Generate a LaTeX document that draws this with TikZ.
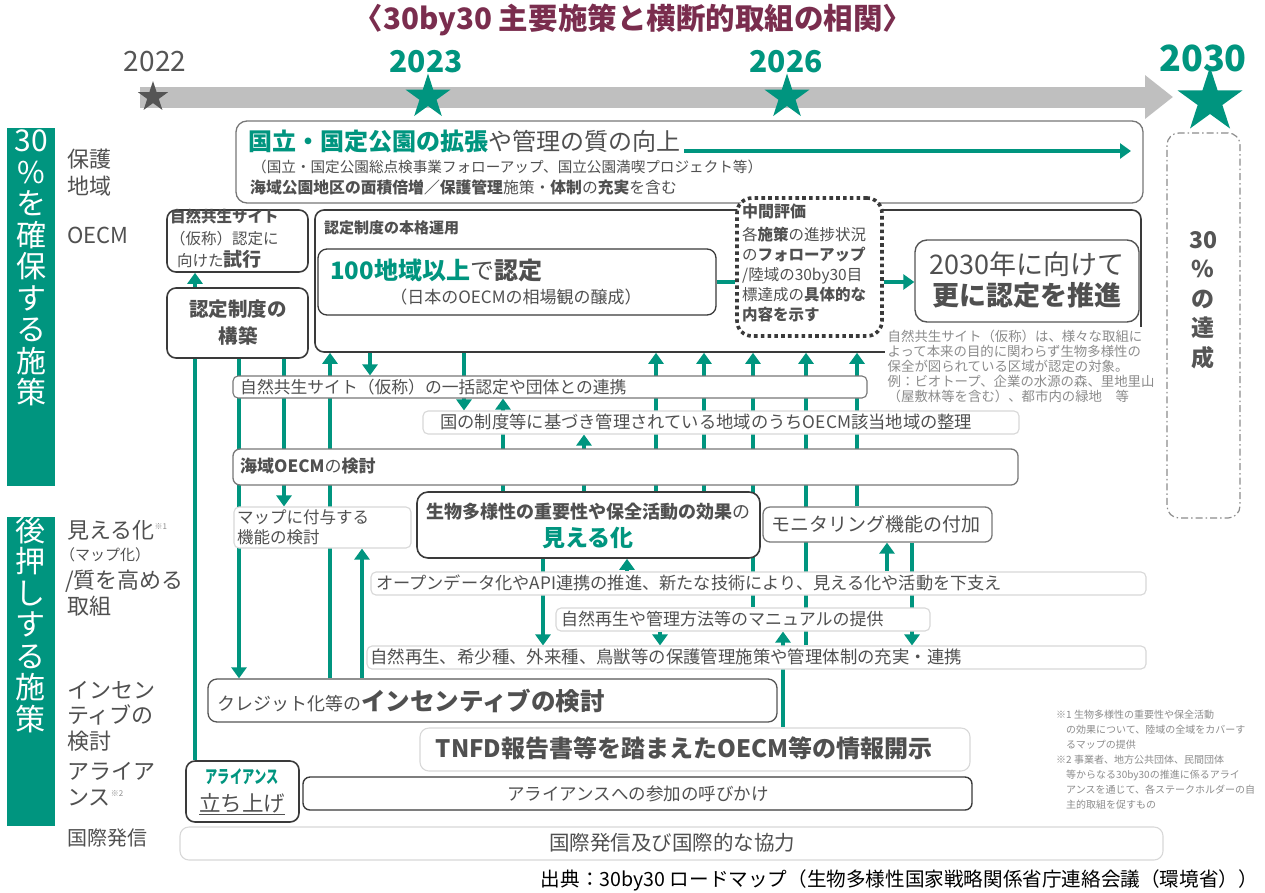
\documentclass[tikz,border=0pt]{standalone}
\usepackage{fontspec}
\usepackage{graphicx}
\setmainfont{Noto Sans CJK JP}
\usetikzlibrary{arrows.meta,fit,shapes.geometric}
\pgfdeclarelayer{back}
\pgfdeclarelayer{bg}
\pgfsetlayers{back,bg,main}
\definecolor{tgreen}{HTML}{00957F}
\definecolor{tgray}{HTML}{505050}
\definecolor{lgray}{HTML}{8C8C8C}
\definecolor{bline}{HTML}{3A3A3A}
\definecolor{mline}{HTML}{777777}
\definecolor{fline}{HTML}{D8D8D8}
\definecolor{maroonT}{HTML}{7A2D4E}
\definecolor{barg}{HTML}{BFBFBF}
\definecolor{sgray}{HTML}{555555}
\newcommand{\fs}[2]{\fontsize{#1pt}{#2pt}\selectfont}
\begin{document}
\begin{tikzpicture}[x=1pt,y=-1pt,
  txt/.style={inner sep=0pt, text=tgray},
  lab/.style={inner sep=0pt, text=tgray},
  dbox/.style={draw=bline, line width=1.6pt, rounded corners=9pt, fill=white, inner sep=0pt},
  gbox/.style={draw=mline, line width=1.3pt, rounded corners=7pt, fill=white, inner sep=0pt},
  lbox/.style={draw=fline, line width=1.1pt, rounded corners=5pt, fill=white, inner sep=0pt},
  conn/.style={draw=tgreen, line width=3.4pt},
  arr/.style={conn, -{Triangle[width=15pt,length=11pt]}},
  starmark/.style={star, star points=5, star point ratio=2.618, inner sep=0pt},
]
\useasboundingbox (0,0) rectangle (1265,892);
\begin{pgfonlayer}{back}
\fill[white] (0,0) rectangle (1265,892);
\end{pgfonlayer}

% ---------- title ----------
\node[inner sep=0pt, text=maroonT, font=\fs{29.5}{29.5}\bfseries] (title) at (633,20) {〈30by30 主要施策と横断的取組の相関〉};

% ---------- timeline ----------
\coordinate (tl0) at (140,97);
\coordinate (tl1) at (1173,97);
\draw[draw=barg, line width=21pt, -{Triangle[width=42pt,length=28pt]}] (tl0) -- (tl1);
\node[starmark, fill=sgray, minimum size=32pt] (s22) at (153,97) {};
\node[starmark, fill=tgreen, minimum size=47pt] (s23) at (428,97) {};
\node[starmark, fill=tgreen, minimum size=47pt] (s26) at (787,97) {};
\node[starmark, fill=tgreen, minimum size=68pt] (s30) at (1210,101) {};
\node[inner sep=0pt, text=sgray, font=\fs{28}{28}] (y22) at (155,62) {2022};
\node[inner sep=0pt, text=tgreen, font=\fs{30}{30}\bfseries] (y23) at (426,62) {2023};
\node[inner sep=0pt, text=tgreen, font=\fs{30}{30}\bfseries] (y26) at (786,62) {2026};
\node[inner sep=0pt, text=tgreen, font=\fs{36}{36}\bfseries] (y30) at (1203,58) {2030};

% ---------- side bars ----------
\node[fill=tgreen, inner sep=0pt, fit={(7,128) (55,486)}] (sb1) {};
\node[inner sep=0pt, text=white, align=center, font=\fs{30}{31.5}, anchor=north] (sb1t) at (31,130) {30\\\%\\を\\確\\保\\す\\る\\施\\策};
\node[fill=tgreen, inner sep=0pt, fit={(7,517) (55,826)}] (sb2) {};
\node[inner sep=0pt, text=white, align=center, font=\fs{30}{31.5}, anchor=north] (sb2t) at (31,516) {後\\押\\し\\す\\る\\施\\策};

% ---------- row labels ----------
\node[lab, anchor=west, align=left, font=\fs{22}{27}] (lbHogo) at (67,173) {保護\\地域};
\node[lab, anchor=west, font=\fs{22}{22}] (lbOecm) at (67,235) {OECM};
\node[lab, anchor=west, font=\fs{22}{22}] (lbMie) at (67,530) {見える化{\fs{8}{8}\raisebox{9pt}{\color{lgray}※1}}};
\node[lab, anchor=west, font=\fs{15}{15}] (lbMap) at (60,555) {（マップ化）};
\node[lab, anchor=west, font=\fs{22}{22}] (lbShitsu) at (65,581) {/質を高める};
\node[lab, anchor=west, font=\fs{22}{22}] (lbTori) at (67,606) {取組};
\node[lab, anchor=west, align=left, font=\fs{22}{25.5}] (lbInc) at (67,716) {インセン\\ティブの\\検討};
\node[lab, anchor=west, align=left, font=\fs{22}{26}] (lbAl) at (67,784) {アライア\\ンス{\fs{8}{8}\raisebox{9pt}{\color{lgray}※2}}};
\node[lab, anchor=west, font=\fs{20}{20}] (lbKoku) at (67,838) {国際発信};

% ---------- protected areas ----------
\node[gbox, rounded corners=11pt, fit={(236,121) (1143,203)}] (pa) {};
\node[txt, anchor=west, font=\fs{24}{24}] (pa1) at (248,141) {\textcolor{tgreen}{\bfseries 国立・国定公園の拡張}や管理の質の向上};
\node[txt, anchor=west, font=\fs{14.6}{14.6}] (pa2) at (252,167) {（国立・国定公園総点検事業フォローアップ、国立公園満喫プロジェクト等）};
\node[txt, anchor=west, font=\fs{15.8}{15.8}] (pa3) at (250,187) {\bfseries 海域公園地区の面積倍増／保護管理\mdseries 施策・\bfseries 体制\mdseries の\bfseries 充実\mdseries を含む};
\coordinate (paA) at (684,151);
\coordinate (paB) at (1131,151);
\draw[arr] (paA) -- (paB);

% ---------- OECM top ----------
\node[dbox, fit={(167,210) (308,272)}] (trial) {};
\node[txt, anchor=north west, align=left, font=\fs{15.5}{22}] (trialT) at (170,209) {\bfseries 自然共生サイト\\\mdseries （仮称）認定に\\\hspace{7pt}向けた{\fs{19}{22}\bfseries 試行}};
\node[dbox, fit={(167,288) (308,358)}] (kouchiku) {};
\node[txt, align=center, font=\fs{19.5}{27}\bfseries] (kouchikuT) at (238,323) {認定制度の\\構築};

\node[dbox, fit={(315,210) (1141,352)}] (unyou) {};
\node[txt, anchor=west, font=\fs{15}{15}\bfseries] (unyouT) at (324,228) {認定制度の本格運用};
\node[dbox, line width=1.3pt, fit={(318,249) (716,315)}] (hyaku) {};
\node[txt, anchor=west, font=\fs{24}{24}] (hyakuT) at (330,270) {\textcolor{tgreen}{\bfseries 100地域以上}で\bfseries 認定};
\node[txt, font=\fs{17}{17}] (hyakuS) at (516,297) {（日本のOECMの相場観の醸成）};

\node[draw=bline, line width=3.6pt, dash pattern=on 3.6pt off 3.2pt, rounded corners=15pt, fill=white, inner sep=0pt, fit={(737,198) (882,336)}] (chukan) {};
\node[txt, anchor=north west, align=left, font=\fs{15.5}{20}] (chukanT) at (742,204) {{\fs{16}{20}\bfseries 中間評価}\\[3pt]各\textbf{施策}の進捗状況\\の\textbf{フォローアップ}\\/陸域の30by30目\\標達成の\textbf{具体的な}\\\textbf{内容を示す}};

\node[dbox, draw=sgray, line width=1.4pt, rounded corners=12pt, fit={(915,240) (1139,322)}] (suishin) {};
\node[txt, align=center, font=\fs{27}{31}] (suishinT) at (1027,280) {2030年に向けて\\\bfseries 更に認定を推進};

\draw[conn] (hyaku.east) -- (chukan.west |- hyaku.east);
\draw[arr] (chukan.east |- hyaku.east) -- (suishin.west |- hyaku.east);

\node[txt, text=lgray, anchor=north west, align=left, font=\fs{13.4}{15}, fill=white, inner sep=2.5pt] (note1) at (885,327) {自然共生サイト（仮称）は、様々な取組に\\よって本来の目的に関わらず生物多様性の\\保全が図られている区域が認定の対象。\\例：ビオトープ、企業の水源の森、里地里山\\（屋敷林等を含む）、都市内の緑地\quad 等};

\node[draw=lgray, line width=1.2pt, dash pattern=on 7pt off 3pt on 1.5pt off 3pt, rounded corners=12pt, inner sep=0pt, fit={(1167,133) (1240,518)}] (tassei) {};
\node[txt, text=sgray, align=center, font=\fs{23}{29.5}\bfseries] (tasseiT) at (1203,300) {30\\\%\\の\\達\\成};

% ---------- middle boxes ----------
\node[gbox, rounded corners=5pt, line width=1.1pt, fit={(233,376) (867,398)}] (ikkatsu) {};
\node[txt, anchor=west, font=\fs{16.8}{16.8}] (ikkatsuT) at (240,387) {自然共生サイト（仮称）の一括認定や団体との連携};
\node[lbox, fit={(423,411) (1019,434)}] (kuni) {};
\node[txt, anchor=west, font=\fs{17.3}{17.3}] (kuniT) at (440,422) {国の制度等に基づき管理されている地域のうちOECM該当地域の整理};
\node[gbox, fit={(233,449) (1018,485)}] (kaiiki) {};
\node[txt, anchor=west, font=\fs{17}{17}] (kaiikiT) at (240,466) {\bfseries 海域OECM\mdseries の\bfseries 検討};

\node[lbox, fit={(234,507) (411,548)}] (map) {};
\node[txt, anchor=north west, align=left, font=\fs{16.5}{20}] (mapT) at (237,509) {マップに付与する\\機能の検討};
\node[dbox, rounded corners=11pt, fit={(417,492) (760,558)}] (mieruka) {};
\node[txt, font=\fs{18}{18}] (mierukaT1) at (588,512) {\bfseries 生物多様性の重要性や保全活動の効果\mdseries の};
\node[txt, text=tgreen, font=\fs{23}{23}\bfseries] (mierukaT2) at (588,538) {見える化};
\node[gbox, fit={(763,507) (992,542)}] (monitor) {};
\node[txt, anchor=west, font=\fs{19}{19}] (monitorT) at (771,524) {モニタリング機能の付加};

\node[lbox, fit={(371,572) (1146,595)}] (open) {};
\node[txt, anchor=west, font=\fs{17.2}{17.2}] (openT) at (376,583) {オープンデータ化やAPI連携の推進、新たな技術により、見える化や活動を下支え};
\node[lbox, fit={(556,608) (930,631)}] (manual) {};
\node[txt, anchor=west, font=\fs{17}{17}] (manualT) at (561,619) {自然再生や管理方法等のマニュアルの提供};
\node[lbox, fit={(367,646) (1146,669)}] (shizen) {};
\node[txt, anchor=west, font=\fs{17.4}{17.4}] (shizenT) at (370,657) {自然再生、希少種、外来種、鳥獣等の保護管理施策や管理体制の充実・連携};

% ---------- lower boxes ----------
\node[gbox, draw=sgray, rounded corners=9pt, fit={(208,679) (777,722)}] (incent) {};
\node[txt, anchor=west] (incentT) at (217,701) {{\fs{18}{18}クレジット化等の}{\fs{24.5}{24.5}\bfseries インセンティブの検討}};
\node[lbox, rounded corners=9pt, fit={(420,728) (970,771)}] (tnfd) {};
\node[txt, font=\fs{24}{24}\bfseries] (tnfdT) at (684,748) {TNFD報告書等を踏まえたOECM等の情報開示};

\node[dbox, fit={(186,761) (299,822)}] (tachiage) {};
\node[txt, text=tgreen, font=\fs{18}{18}\bfseries] (tachiageT1) at (242,777) {\scalebox{0.68}[1]{アライアンス}};
\node[txt, font=\fs{21.5}{21.5}] (tachiageT2) at (242,804) {\underline{立ち上げ}};
\node[dbox, line width=1.4pt, rounded corners=7pt, fit={(303,777) (972,810)}] (yobikake) {};
\node[txt, font=\fs{17.5}{17.5}] (yobikakeT) at (638,794) {アライアンスへの参加の呼びかけ};

\node[lbox, rounded corners=9pt, fit={(180,827) (1163,860)}] (kokusai) {};
\node[txt, font=\fs{20.5}{20.5}] (kokusaiT) at (672,843) {国際発信及び国際的な協力};

% ---------- notes and source ----------
\node[txt, text=lgray, anchor=north west, align=left, font=\fs{10}{15}] (note2) at (1056,710) {※1 生物多様性の重要性や保全活動\\\hspace{1em}の効果について、陸域の全域をカバーす\\\hspace{1em}るマップの提供\\※2 事業者、地方公共団体、民間団体\\\hspace{1em}等からなる30by30の推進に係るアライ\\\hspace{1em}アンスを通じて、各ステークホルダーの自\\\hspace{1em}主的取組を促すもの};
\node[inner sep=0pt, text=black, anchor=east, font=\fs{19.6}{19.6}] (source) at (1258,880) {出典：30by30 ロードマップ（生物多様性国家戦略関係省庁連絡会議（環境省））};

% ---------- connectors ----------
\foreach \n/\x in {A/195,B/239,C/284,D/330,E/362,F/370,G/464,H/503,I/584,J/656,K/704,L/753,M/806,N/857,O/543,P/627,Q/660,R/783,S/887,T/912}{\coordinate (c\n) at (\x,0);}
\begin{pgfonlayer}{bg}
\draw[arr] (kouchiku.north -| cA) -- (trial.south -| cA);
\draw[conn] (kouchiku.south -| cA) -- (tachiage.north -| cA);
\draw[arr] (kouchiku.south -| cB) -- (incent.north -| cB);
\draw[arr] (kouchiku.south -| cC) -- (map.north -| cC);
\draw[arr] (incent.north -| cD) -- (unyou.south -| cD);
\draw[arr] (incent.north -| cE) -- (map.south -| cE);
\draw[arr] (unyou.south -| cF) -- (ikkatsu.north -| cF);
\draw[arr] (unyou.south -| cG) -- (kuni.north -| cG);
\draw[arr] (mieruka.north -| cH) -- (ikkatsu.south -| cH);
\draw[arr] (mieruka.north -| cI) -- (kuni.south -| cI);
\draw[arr] (mieruka.north -| cJ) -- (unyou.south -| cJ);
\draw[arr] (mieruka.north -| cK) -- (unyou.south -| cK);
\draw[arr] (manual.north -| cL) -- (unyou.south -| cL);
\draw[arr] (shizen.north -| cM) -- (unyou.south -| cM);
\draw[arr] (monitor.north -| cN) -- (unyou.south -| cN);
\draw[arr] (mieruka.south -| cO) -- (shizen.north -| cO);
\draw[arr] (open.north -| cP) -- (mieruka.south -| cP);
\draw[arr] (manual.south -| cQ) -- (shizen.north -| cQ);
\draw[arr] (tnfd.north -| cR) -- (manual.south -| cR);
\draw[arr] (open.north -| cS) -- (monitor.south -| cS);
\draw[arr] (monitor.south -| cT) -- (shizen.north -| cT);
\end{pgfonlayer}
\end{tikzpicture}
\end{document}
